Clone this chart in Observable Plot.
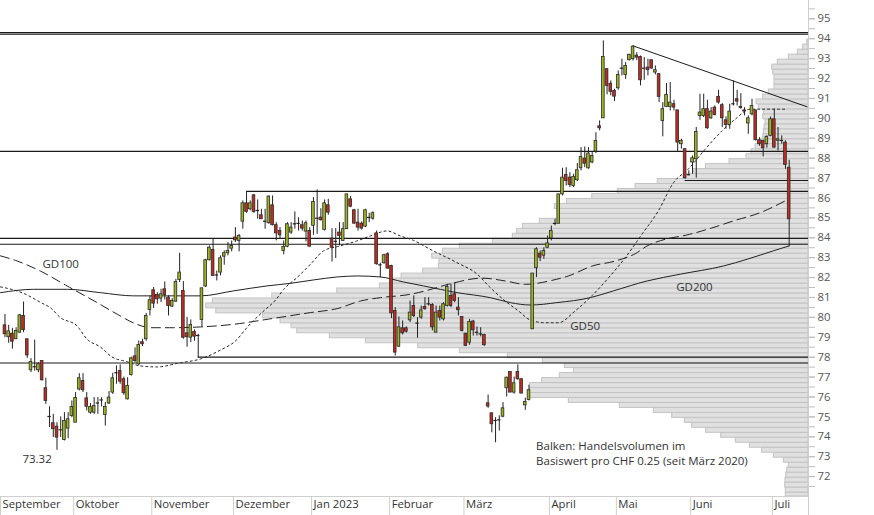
<!DOCTYPE html>
<html><head><meta charset="utf-8">
<script src="https://cdn.jsdelivr.net/npm/d3@7"></script>
<script src="https://cdn.jsdelivr.net/npm/@observablehq/plot@0.6"></script>
<style>
html,body{margin:0;padding:0;background:#fff;}
#chart{width:874px;height:515px;overflow:hidden;}
</style></head><body><div id="chart"></div>
<script>
// trading-day index of the first candle (0 = first trading day of October 2022)
const firstDay = -19;
const opens = [
79.60,79.00,79.18,78.90,79.23,80.07,78.90,77.34,77.50,77.34, // -19..-10
77.81,76.44,75.00,74.68,74.51,74.30,73.84,74.41,75.05,       // -9..-1
74.71,76.38,76.80,75.93,75.21,75.21,75.66,75.83,75.10,75.67, // 0..9
76.22,77.19,77.31,76.89,75.88,77.10,78.04,77.64,78.75,78.90, // 10..19
80.37,81.36,81.13,80.94,81.41,80.99,80.54,80.79,81.88,81.33, // 20..29
79.20,78.98,79.27,79.07,79.87,81.55,82.87,83.39,82.11,82.25, // 30..39
83.05,83.22,83.45,84.01,83.84,84.81,85.73,85.43,86.13,85.35, // 40..49
85.13,84.81,84.73,85.63,84.63,84.34,83.34,83.55,84.26,84.68, // 50..59
84.70,84.63,84.31,84.34,84.60,84.96,85.01,84.39,85.63,83.96, // 60..69
83.80,84.26,83.84,84.43,85.93,85.38,84.76,84.71,84.56,85.00, // 70..79
84.96,84.22,82.62,82.72,83.17,82.58,80.32,78.53,79.45,79.45, // 80..89
79.85,80.57,79.69,79.99,80.52,80.70,80.62,79.23,80.32,79.90, // 90..99
80.57,81.07,81.16,80.49,80.02,79.18,78.73,79.79,79.23,79.15, // 100..109
79.11,75.68,75.18,74.80,74.83,75.01,76.44,77.26,76.22,77.26, // 110..119
76.89,75.58,75.85,79.40,82.47,83.20,83.10,83.50,83.97,84.68, // 120..129
84.70,86.18,87.16,87.02,86.60,86.89,87.49,87.98,87.49,87.78, // 130..139
88.33,89.60,90.00,92.47,91.74,91.38,91.51,92.50,92.18,92.92, // 140..149
92.97,93.15,93.08,92.50,92.55,92.92,92.30,92.22,89.87,90.57, // 150..159
90.57,90.71,90.40,88.70,88.45,87.19,87.78,87.94,90.12,90.12, // 160..169
90.46,90.00,90.54,91.08,90.66,89.90,89.67,90.71,90.96,90.58, // 170..179
90.40,89.74,90.20,90.40,88.90,88.87,88.70,89.12,89.95,88.87, // 180..189
88.87,88.78,87.52                                            // 190..192
];
const highs = [
80.15,79.60,79.45,79.48,80.15,80.77,78.90,77.93,78.86,77.72,
77.81,76.94,75.51,75.13,74.71,75.00,75.21,75.21,75.80,
76.22,77.17,77.17,76.22,75.67,75.97,75.97,75.97,75.72,76.27,
77.19,77.56,77.61,77.00,76.97,78.00,78.47,78.81,78.90,80.20,
81.07,81.50,81.24,81.41,81.78,81.08,80.94,81.91,83.22,81.80,
80.00,79.87,79.37,79.15,81.46,82.92,83.59,83.96,82.33,83.09,
83.34,83.76,83.84,84.51,84.17,85.85,86.27,85.85,86.18,85.90,
85.43,85.43,86.10,86.10,84.76,84.51,83.84,84.76,84.76,85.30,
85.00,84.84,84.84,84.51,86.02,86.40,85.46,85.90,85.93,84.46,
84.46,84.76,84.76,86.18,86.07,85.43,85.43,84.80,85.43,85.23,
85.30,84.34,82.72,83.17,83.25,82.62,80.49,80.02,79.82,79.52,
80.82,81.08,79.99,80.57,80.99,80.99,80.69,80.57,80.57,80.74,
81.66,81.66,81.75,80.99,80.02,79.18,79.90,79.85,79.52,79.48,
79.15,76.10,75.18,74.96,75.05,75.72,77.00,77.26,77.00,77.61,
76.92,75.94,76.59,82.20,83.50,83.34,83.50,84.09,84.59,84.93,
86.18,87.49,87.52,87.27,87.19,87.73,88.53,88.56,88.53,88.28,
89.28,89.87,93.89,92.47,91.88,91.46,92.38,92.97,92.80,93.22,
93.64,93.30,93.13,93.05,92.97,92.92,92.63,92.25,90.79,91.75,
91.80,90.91,90.40,88.95,88.45,87.36,88.11,89.54,91.21,91.21,
90.91,90.54,90.62,91.41,90.74,90.07,90.71,91.88,91.41,91.24,
90.54,90.12,90.96,90.40,89.03,88.90,89.12,90.07,90.46,89.54,
89.12,88.87,87.89
];
const lows = [
78.98,78.70,78.40,78.90,79.20,79.23,77.94,77.22,77.30,77.22,
76.80,75.63,74.46,73.96,73.32,73.96,73.79,73.90,74.96,
74.71,76.30,76.22,75.30,75.13,75.13,75.13,75.50,74.54,75.63,
76.13,76.64,76.64,76.08,75.85,77.05,77.73,77.56,78.53,78.80,
80.07,80.44,80.66,80.74,80.87,80.07,80.49,80.74,81.75,78.90,
78.50,78.73,78.80,77.98,79.48,81.50,82.83,82.08,81.83,82.08,
82.62,83.09,83.29,83.76,83.29,84.43,85.23,85.35,85.23,84.93,
84.93,84.43,84.68,84.60,83.84,83.92,83.14,83.50,84.17,84.43,
84.34,84.34,83.79,83.55,84.12,84.17,84.84,84.34,85.13,82.78,
82.96,83.59,83.84,84.43,85.51,84.68,84.34,84.38,84.51,84.76,
84.88,82.62,81.99,82.67,82.42,79.94,78.06,78.48,79.12,79.22,
79.74,79.99,78.95,79.90,80.36,80.57,79.32,79.23,79.82,79.82,
80.52,80.49,80.74,80.07,79.27,78.56,78.60,79.06,79.06,79.02,
78.55,75.43,74.20,73.70,74.29,74.96,76.00,76.22,76.14,76.84,
76.17,75.33,75.80,79.40,82.00,82.80,82.92,83.45,83.84,84.60,
84.70,86.10,86.60,86.52,86.52,86.82,87.36,87.52,87.44,87.72,
88.23,89.37,90.00,91.18,91.13,90.84,91.41,92.13,91.96,92.88,
92.88,92.90,91.63,91.91,92.13,92.47,92.18,90.79,89.07,90.54,
90.37,90.37,88.28,88.45,86.94,87.11,87.19,86.99,89.90,90.04,
89.45,89.95,90.12,90.71,89.54,89.45,89.45,90.62,90.62,90.45,
90.12,89.20,90.12,88.86,88.60,88.06,88.50,89.07,88.50,88.36,
88.70,87.44,83.55
];
const closes = [
79.15,79.30,78.78,79.32,80.10,79.36,78.09,77.76,77.52,77.64,
76.84,75.80,75.02,74.38,73.96,74.35,74.79,74.88,75.50,
75.95,76.94,76.34,75.51,75.50,75.55,75.70,75.85,75.50,75.97,
76.94,77.22,76.77,76.19,76.55,77.94,77.81,78.61,78.65,80.07,
80.86,80.69,80.91,81.16,81.13,80.57,80.82,81.78,82.25,78.98,
79.00,79.62,79.03,79.09,81.46,82.87,83.50,82.08,82.13,82.97,
83.22,83.34,83.59,83.87,84.09,85.73,85.30,85.73,85.30,85.37,
84.93,84.83,86.07,84.63,84.22,84.12,83.54,84.68,84.51,84.70,
84.72,84.46,84.73,83.55,85.80,84.98,84.88,85.73,85.26,83.50,
83.82,84.09,84.43,86.18,85.56,84.71,84.51,84.46,85.38,85.02,
85.23,82.67,82.64,83.12,82.45,80.20,78.23,79.50,79.20,79.28,
80.24,80.07,79.71,80.35,80.41,80.68,79.50,80.24,79.99,80.66,
81.53,80.57,80.82,80.36,79.32,78.56,79.77,79.35,79.25,79.17,
78.60,75.52,74.63,74.82,74.85,75.43,76.97,76.22,76.69,76.89,
76.17,75.75,76.34,82.20,83.42,83.00,83.33,83.72,84.34,84.72,
86.18,87.02,86.85,86.65,87.06,87.39,88.06,87.72,88.23,88.11,
88.86,89.50,93.08,91.63,91.33,91.09,92.18,92.52,92.63,93.19,
93.60,93.05,91.91,92.52,92.42,92.50,92.42,91.08,90.46,91.18,
90.79,90.54,88.78,88.86,86.99,87.17,87.99,89.32,90.29,90.46,
89.50,90.34,90.17,90.79,90.00,89.67,90.34,90.73,90.84,90.52,
90.34,90.00,90.62,88.90,88.70,88.50,89.07,89.95,88.53,88.95,
88.89,87.66,84.93
];

// month boundaries in trading-day index
const monthStarts = [-19.7, 0, 21, 43, 64, 85, 105, 128, 146, 166, 188];
const monthLabels = ["September","Oktober","November","Dezember","Jan 2023","Februar","März","April","Mai","Juni","Juli"];
const xStart = -19.7, xEnd = 197.7;

// moving averages
const gd50T = [-19.7,-13.9,-8.5,-6.3,-3.6,0.9,3.6,7.2,10.3,14.4,17.9,22.4,28.7,34.1,39.5,43.5,47,50.8,54.3,56.5,60.1,63.7,67.2,71.7,76.2,79.8,84.3,87.9,91.4,95.9,103.1,108.5,112.1,116.1,119.7,122.8,126.9,130.4,134.9,139.4,143.9,148.4,152.9,157.3,161.4,165.4,169.9,174.4,178,182,191.4];
const gd50V = [81.53,81.24,80.71,80.49,79.99,79.57,78.9,78.51,78.01,77.77,77.56,77.51,77.72,77.91,78.36,78.81,79.57,80.27,80.87,81.41,82.0,82.67,83.34,83.59,83.84,84.09,84.34,84.09,83.87,83.42,82.75,82.18,81.49,80.82,80.32,79.87,79.73,79.73,80.32,81.08,81.99,83.0,84.18,85.35,86.77,87.46,88.45,89.37,89.96,90.46,90.46];
const gd100T = [-19.7,-15.2,-9,-1.8,6.3,11.7,17,20.6,26.8,34.1,43,52,63.7,70.9,77.1,82.5,90.6,94.6,100.8,109.9,116.1,121.5,128.7,133.1,139.5,145.7,151.1,154.3,159.1,165,172,177.4,184.7,191.4];
const gd100V = [83.09,82.83,82.33,81.58,80.74,80.16,79.65,79.48,79.48,79.52,79.65,79.9,80.24,80.44,80.82,80.99,81.16,81.33,81.66,81.97,81.83,81.66,81.86,82.08,82.58,82.83,83.2,83.59,83.92,84.14,84.51,84.84,85.26,85.85];
const gd200T = [-19.7,-10.8,-1.7,7.2,16.1,25.2,34.1,43,52,58.3,64.5,70.9,76.3,82.5,88.7,94.1,103.2,112.1,117.5,122.8,130,139,145.2,154.3,163.2,174.8,181.2,188.2,192.5];
const gd200V = [81.24,81.41,81.41,81.24,81.08,81.08,81.08,81.33,81.58,81.71,81.88,82.03,82.08,82.03,81.78,81.58,81.24,80.99,80.74,80.62,80.74,80.99,81.33,81.83,82.17,82.58,82.92,83.34,83.59];

// volume profile: bins of CHF 0.25 from the bottom, volume in arbitrary units
const profileBottom = 70.95, profileStep = 0.25;
const profileVol = [22.7,22.7,23.3,23,22.3,21.3,19.7,24.7,34.7,46.3,
58.7,72.7,87.3,102.3,116.3,123.7,136.3,154.7,188.7,239.7,
278.7,278.7,278.7,266.3,248.7,234.7,243.7,265.7,300.7,348.7,
390.3,442.7,478.7,511.3,517,528,545.7,592.3,602.3,595.7,
536.3,471.3,428.7,418,407,385.3,369.7,369,376.3,365.7,
348.7,315.7,295.7,291.3,285.7,268.7,249.7,249.7,253.7,241.7,
216.3,190.7,173,150.7,124.7,115,102.5,79,62,57,
53,48,45.3,44.7,44,43,45.3,44.7,49.7,52,
45.3,39.7,34,34,34,35.3,36.3,30.7,19.7,10.7,
5.3,1.3];
const volPerDay = 3.717; // volume units per trading-day width

// support / resistance lines
const fullLevels = [94.31, 94.23, 88.34, 83.97, 83.67, 77.71];
const partialLevelV = [86.33, 78.0, 86.88];
const partialLevelFrom = [46.5, 33.5, 164.5];
const trendT = [150.5, 197.3];
const trendV = [93.64, 90.58];

// annotations
const noteText = ["GD100","73.32","GD50","GD200","Balken: Handelsvolumen im","Basiswert pro CHF 0.25 (seit März 2020)"];
const noteT = [-8.4, -13.8, 133.6, 162.1, 124.4, 124.4];
const noteV = [82.65, 72.89, 79.56, 81.52, 73.52, 72.77];

// ---- build tables ----
const candles = opens.map((o, k) => ({t: firstDay + k + 0.5, o, h: highs[k], l: lows[k], c: closes[k]}));
const bodies = candles.filter(d => Math.abs(d.o - d.c) >= 0.06);
const dojis = candles.filter(d => Math.abs(d.o - d.c) < 0.06);
const bins = profileVol.map((v, k) => ({lo: profileBottom + k*profileStep, hi: profileBottom + (k+1)*profileStep, vol: v}));
const pts = (T, V) => T.map((t, k) => ({t, v: V[k]}));
const partial = partialLevelV.map((v, k) => ({v, from: partialLevelFrom[k]}));
const notes = noteText.map((s, k) => ({s, t: noteT[k], v: noteV[k]}));

const GREEN = "#9db31f", RED = "#c42b1f", INK = "#222";

const chart = Plot.plot({
  width: 874, height: 515,
  marginLeft: 0, marginRight: 66, marginTop: 0, marginBottom: 19,
  x: {domain: [xStart, xEnd], label: null},
  y: {domain: [71, 95.92], label: null},
  color: {type: "identity"},
  style: {fontFamily: "'Open Sans', sans-serif", background: "#fff", overflow: "visible"},
  marks: [
    Plot.rect(bins, {x1: d => xEnd - d.vol / volPerDay, x2: xEnd, y1: d => Math.max(71, d.lo), y2: "hi",
      fill: "#e0e0e0", stroke: "#c3c3c3", strokeWidth: 1}),
    Plot.ruleY(fullLevels, {stroke: "#1a1a1a", strokeWidth: 1.1}),
    Plot.ruleY(partial, {y: "v", x1: "from", x2: xEnd, stroke: "#1a1a1a", strokeWidth: 1.1}),
    Plot.line(pts(trendT, trendV), {x: "t", y: "v", stroke: "#1a1a1a", strokeWidth: 1}),
    Plot.line(pts(gd200T, gd200V), {x: "t", y: "v", curve: "monotone-x", stroke: INK, strokeWidth: 1}),
    Plot.line(pts(gd100T, gd100V), {x: "t", y: "v", curve: "monotone-x", stroke: INK, strokeWidth: 1, strokeDasharray: "9,5"}),
    Plot.line(pts(gd50T, gd50V), {x: "t", y: "v", curve: "monotone-x", stroke: INK, strokeWidth: 1, strokeDasharray: "2,3"}),
    Plot.ruleX(candles, {x: "t", y1: "l", y2: "h", stroke: INK, strokeWidth: 1}),
    Plot.rect(bodies, {x1: d => d.t - 0.36, x2: d => d.t + 0.36, y1: "o", y2: "c",
      fill: d => d.c >= d.o ? GREEN : RED, stroke: "#2a2a2a", strokeWidth: 0.8}),
    Plot.ruleY(dojis, {y: "c", x1: d => d.t - 0.45, x2: d => d.t + 0.45, stroke: INK, strokeWidth: 1.2}),
    Plot.ruleY([71], {stroke: "#cfcfcf"}),
    Plot.ruleX([xEnd], {stroke: "#cfcfcf"}),
    Plot.axisY({anchor: "right", ticks: d3.range(71.5, 95.6, 0.5), tickSize: 6, tickFormat: () => "", stroke: "#bdbdbd"}),
    Plot.axisY({anchor: "right", ticks: d3.range(72, 96), tickSize: 6, tickPadding: 3, stroke: "#bdbdbd", fill: "#555", fontSize: 11.3}),
    Plot.axisX({ticks: [...monthStarts, xEnd], tickSize: 19, tickFormat: () => "", stroke: "#cfcfcf"}),
    Plot.axisX({ticks: monthStarts, tickSize: 0, tickPadding: 3, tickFormat: d => monthLabels[monthStarts.indexOf(d)],
      textAnchor: "start", dx: 2, fill: "#333", fontSize: 11.3}),
    Plot.text(notes, {x: "t", y: "v", text: "s", textAnchor: "start", fill: "#333", fontSize: 11.5})
  ]
});
document.getElementById("chart").appendChild(chart);
</script>
</body></html>
